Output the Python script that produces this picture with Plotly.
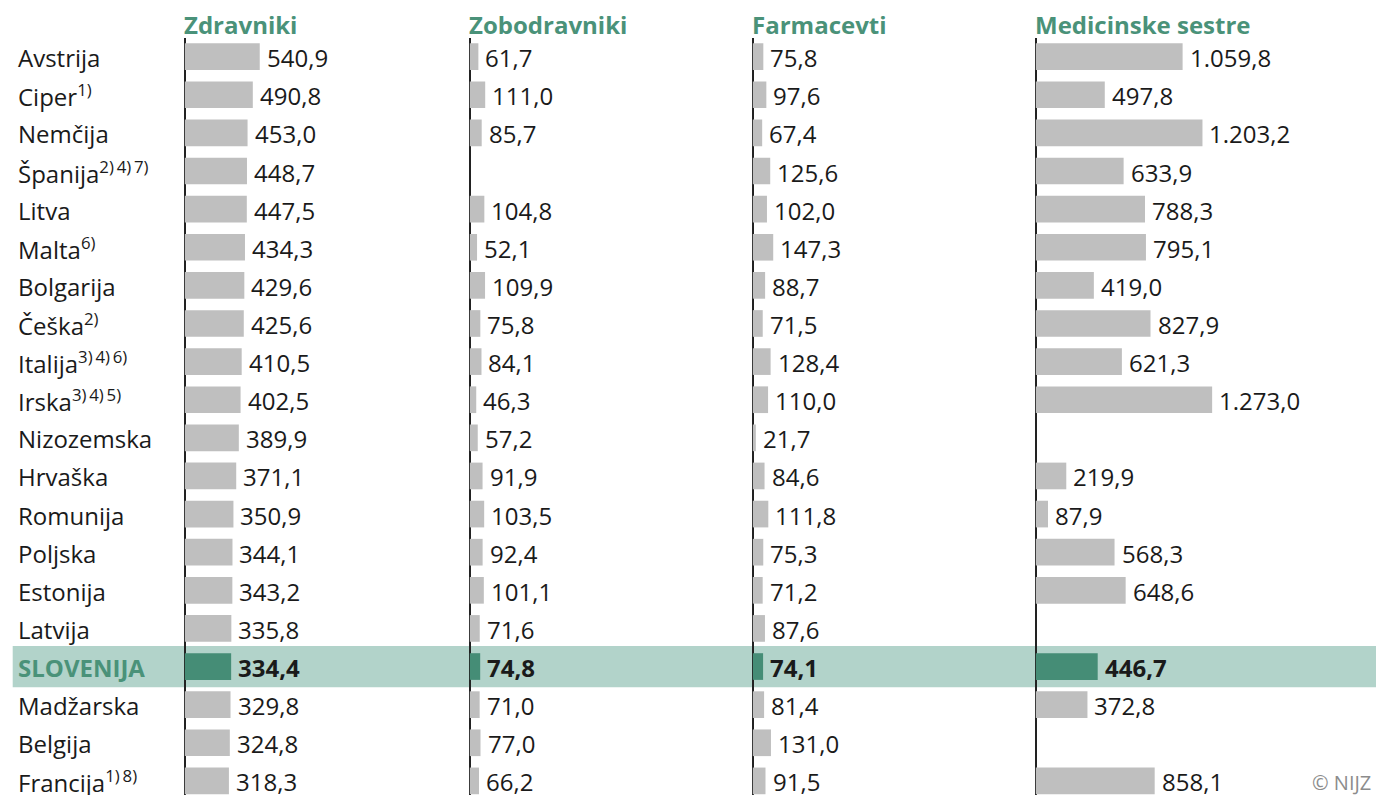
import plotly.graph_objects as go

# ── data ──────────────────────────────────────────────────────────────────────
COUNTRIES = [
    "Avstrija", "Ciper<sup>1)</sup>", "Nemčija", "Španija<sup>2)\u20094)\u20097)</sup>",
    "Litva", "Malta<sup>6)</sup>", "Bolgarija", "Češka<sup>2)</sup>",
    "Italija<sup>3)\u20094)\u20096)</sup>", "Irska<sup>3)\u20094)\u20095)</sup>",
    "Nizozemska", "Hrvaška", "Romunija", "Poljska", "Estonija", "Latvija",
    "SLOVENIJA", "Madžarska", "Belgija", "Francija<sup>1)\u20098)</sup>",
]
HIGHLIGHT = "SLOVENIJA"

PANELS = ["Zdravniki", "Zobodravniki", "Farmacevti", "Medicinske sestre"]

zdravniki = [540.9, 490.8, 453.0, 448.7, 447.5, 434.3, 429.6, 425.6, 410.5, 402.5,
             389.9, 371.1, 350.9, 344.1, 343.2, 335.8, 334.4, 329.8, 324.8, 318.3]
zobodravniki = [61.7, 111.0, 85.7, None, 104.8, 52.1, 109.9, 75.8, 84.1, 46.3,
                57.2, 91.9, 103.5, 92.4, 101.1, 71.6, 74.8, 71.0, 77.0, 66.2]
farmacevti = [75.8, 97.6, 67.4, 125.6, 102.0, 147.3, 88.7, 71.5, 128.4, 110.0,
              21.7, 84.6, 111.8, 75.3, 71.2, 87.6, 74.1, 81.4, 131.0, 91.5]
sestre = [1059.8, 497.8, 1203.2, 633.9, 788.3, 795.1, 419.0, 827.9, 621.3, 1273.0,
          None, 219.9, 87.9, 568.3, 648.6, None, 446.7, 372.8, None, 858.1]
SERIES = [zdravniki, zobodravniki, farmacevti, sestre]

# ── style ─────────────────────────────────────────────────────────────────────
W, H = 1376, 795
FONT = "Open Sans, Noto Sans, sans-serif"
FS = 24
GRAY = "#bfbfbf"
GREEN = "#458d76"
BAND = "#b2d3ca"
TITLE_GREEN = "#4a9279"
TXT = "#1a1a1a"

PANEL_LEFT = [184, 469, 752, 1035]   # px position of each zero line
PANEL_RIGHT = [469, 752, 1035, 1376]
PX_PER_UNIT = 0.1385

TOP_PX = 37.6
Y_BOTTOM = 19.37


def fmt(v):
    s = f"{v:,.1f}"
    return s.replace(",", "X").replace(".", ",").replace("X", ".")


ids = list(range(len(COUNTRIES)))
hi = COUNTRIES.index(HIGHLIGHT)

fig = go.Figure()
annotations = []

for k, (title, vals) in enumerate(zip(PANELS, SERIES)):
    xa = "x" if k == 0 else f"x{k + 1}"
    colors = [GREEN if i == hi else GRAY for i in ids]
    fig.add_trace(go.Bar(
        x=vals, y=ids, orientation="h",
        marker=dict(color=colors, line_width=0),
        width=0.7, xaxis=xa, yaxis="y",
        hoverinfo="skip", showlegend=False,
    ))
    for i, v in zip(ids, vals):
        if v is None:
            continue
        txt = f"<b>{fmt(v)}</b>" if i == hi else fmt(v)
        annotations.append(dict(
            x=v, y=i, xref=xa, yref="y", text=txt, showarrow=False,
            xanchor="left", yanchor="middle", xshift=5, yshift=-1,
            font=dict(family=FONT, size=FS, color=TXT),
        ))
    annotations.append(dict(
        x=PANEL_LEFT[k] / W, y=1 - 24 / H, xref="paper", yref="paper",
        text=f"<b>{title}</b>", showarrow=False, xanchor="left", yanchor="middle",
        xshift=-2, yshift=-1, font=dict(family=FONT, size=FS, color=TITLE_GREEN),
    ))
    width_px = PANEL_RIGHT[k] - PANEL_LEFT[k]
    fig.layout[f"xaxis{'' if k == 0 else k + 1}"] = dict(
        domain=[PANEL_LEFT[k] / W, PANEL_RIGHT[k] / W],
        range=[-6, width_px / PX_PER_UNIT - 6],
        anchor="y", showgrid=False, showticklabels=False, ticks="",
        zeroline=True, zerolinecolor="#222222", zerolinewidth=2,
        fixedrange=True,
    )

# country labels
for i, name in enumerate(COUNTRIES):
    if i == hi:
        txt = f"<b>{name}</b>"
        col = TITLE_GREEN
    else:
        txt = name
        col = TXT
    annotations.append(dict(
        x=16 / W, y=i, xref="paper", yref="y", text=txt, showarrow=False,
        xanchor="left", yanchor="middle", yshift=-1,
        font=dict(family=FONT, size=FS, color=col),
    ))

annotations.append(dict(
    x=1, y=1 - 782 / H, xref="paper", yref="paper", text="© NIJZ", showarrow=False,
    xanchor="right", yanchor="middle", xshift=-3,
    font=dict(family=FONT, size=20, color="#8c8c8c"),
))

fig.update_layout(
    width=W, height=H,
    margin=dict(l=0, r=0, t=0, b=0),
    yaxis=dict(
        domain=[0, 1 - TOP_PX / H], range=[Y_BOTTOM, -0.5],
        showticklabels=False, showgrid=False, zeroline=False, ticks="",
        fixedrange=True,
    ),
    barmode="overlay",
    annotations=annotations,
    shapes=[dict(
        type="rect", xref="paper", yref="y",
        x0=12.7 / W, x1=1, y0=hi - 0.54, y1=hi + 0.54,
        fillcolor=BAND, line_width=0, layer="below",
    )],
    paper_bgcolor="white",
    plot_bgcolor="rgba(0,0,0,0)",
    font=dict(family=FONT, color=TXT),
)

fig.write_html(
    "out.html",
    config={"displayModeBar": False},
    post_script="document.body.style.margin='0';document.body.style.overflow='hidden';",
)
